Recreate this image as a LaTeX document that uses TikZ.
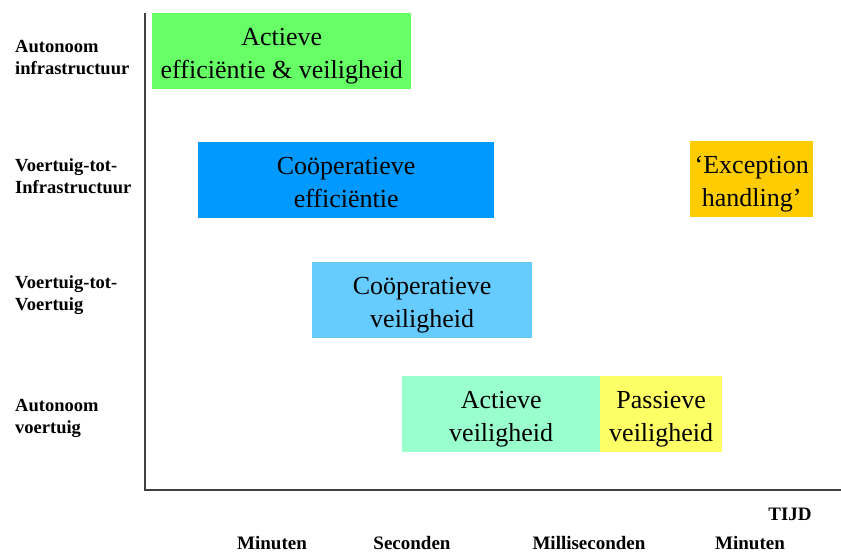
\documentclass[tikz,border=0pt]{standalone}
\usepackage{fontspec}
\setmainfont{Liberation Serif}
% two centred lines on fixed struts, so every band sets its text alike
\newcommand\twolines[2]{\begin{tabular}{@{}c@{}}\rule{0pt}{32pt}#1\\#2\end{tabular}}
\begin{document}
\begin{tikzpicture}[x=1pt,y=-1pt,
  band/.style={rectangle, draw=none, anchor=north west, inner sep=0pt,
    text=black, font=\fontsize{26}{33}\selectfont},
  rowlabel/.style={anchor=west, align=left, inner sep=0pt,
    font=\fontsize{18.5}{22}\selectfont\bfseries},
  timelabel/.style={anchor=base, inner sep=0pt,
    font=\fontsize{19}{20}\selectfont\bfseries},
  axis/.style={draw=black!75, line width=1.3pt}]
\useasboundingbox (0,0) rectangle (841,552);

% colours of the bands
\definecolor{cgreen}{RGB}{102,255,102}
\definecolor{cblue}{RGB}{0,153,255}
\definecolor{clightblue}{RGB}{102,204,255}
\definecolor{caqua}{RGB}{153,255,204}
\definecolor{cyellow}{RGB}{255,255,102}
\definecolor{corange}{RGB}{255,204,0}

% axes
\coordinate (top) at (145,13);
\coordinate (origin) at (145,490);
\coordinate (right) at (841,490);
\draw[axis] (top) -- (origin) -- (right);

% row labels
\node[rowlabel] (r1) at (15,58) {Autonoom\\infrastructuur};
\node[rowlabel] (r2) at (15,176) {Voertuig-tot-\\Infrastructuur};
\node[rowlabel] (r3) at (15,295) {Voertuig-tot-\\Voertuig};
\node[rowlabel] (r4) at (15,418) {Autonoom\\voertuig};

% bands
\node[band, fill=cgreen, minimum width=259pt, minimum height=76pt] (b1) at (152,13)
  {\twolines{Actieve}{efficiëntie \& veiligheid}};
\node[band, fill=cblue, minimum width=296pt, minimum height=76pt] (b2) at (198,142)
  {\twolines{Coöperatieve}{efficiëntie}};
\node[band, fill=clightblue, minimum width=220pt, minimum height=76pt] (b3) at (312,262)
  {\twolines{Coöperatieve}{veiligheid}};
\node[band, fill=caqua, minimum width=198pt, minimum height=76pt] (b4) at (402,376)
  {\twolines{Actieve}{veiligheid}};
\node[band, fill=cyellow, minimum width=122pt, minimum height=76pt] (b5) at (600,376)
  {\twolines{Passieve}{veiligheid}};
\node[band, fill=corange, minimum width=123pt, minimum height=76pt] (b6) at (690,141)
  {\twolines{‘Exception}{handling’}};

% time axis labels
\node[timelabel] (tijd) at (790,520) {TIJD};
\node[timelabel] (t1) at (272,549) {Minuten};
\node[timelabel] (t2) at (412,549) {Seconden};
\node[timelabel] (t3) at (589,549) {Milliseconden};
\node[timelabel] (t4) at (750,549) {Minuten};
\end{tikzpicture}
\end{document}
